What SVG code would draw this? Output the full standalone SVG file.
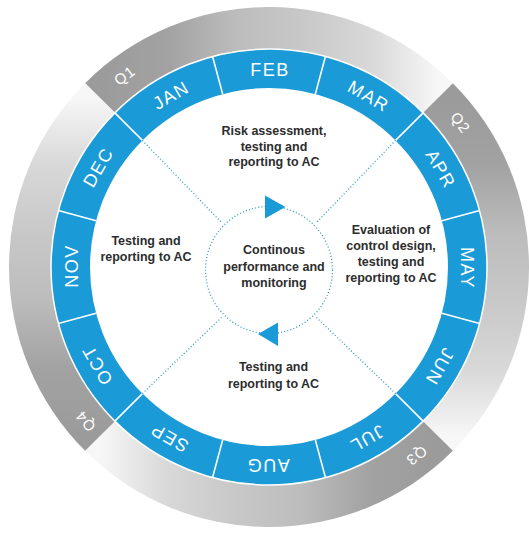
<svg xmlns="http://www.w3.org/2000/svg" xmlns:xlink="http://www.w3.org/1999/xlink" width="529" height="534" viewBox="0 0 529 534">
<style>
.month{font-family:"Liberation Sans",Arial,sans-serif;font-size:18px;fill:#ffffff;text-anchor:middle;letter-spacing:1.5px}
.qlab{font-family:"Liberation Sans",Arial,sans-serif;font-size:15px;fill:#ffffff;text-anchor:middle;letter-spacing:1px}
.body{font-family:"Liberation Sans",Arial,sans-serif;font-size:12.5px;font-weight:bold;fill:#2d2d2d;text-anchor:middle}
.dot{fill:none;stroke:#2b9cc4;stroke-width:1.3;stroke-dasharray:1 2.2}
.sep{stroke:#ffffff;stroke-width:1.6}
.tri{fill:#1a9ad7}
</style>
<defs>
<linearGradient id="qfade" gradientUnits="userSpaceOnUse" x1="100" y1="0" x2="438" y2="0">
<stop offset="0" stop-color="#9b9b9b"/>
<stop offset="0.2" stop-color="#a2a2a2"/>
<stop offset="0.4" stop-color="#bcbcbc"/>
<stop offset="0.6" stop-color="#c8c8c8"/>
<stop offset="0.8" stop-color="#d8d8d8"/>
<stop offset="0.95" stop-color="#efefef"/>
<stop offset="1" stop-color="#f7f7f7"/>
</linearGradient>
<path id="quarter" d="M85.15,83.15 A260,260 0 0 1 452.85,83.15 L423.15,112.85 A218,218 0 0 0 114.85,112.85 Z" fill="url(#qfade)"/>
<line id="sepline" x1="269" y1="88" x2="269" y2="49" class="sep"/>
</defs>
<rect width="529" height="534" fill="#ffffff"/>

<g id="quarters">
<g id="q1"><use xlink:href="#quarter"/><text class="qlab" x="269" y="32.5" transform="rotate(-37 269 267)">Q1</text></g>
<g id="q2"><use xlink:href="#quarter" transform="rotate(90 269 267)"/><text class="qlab" x="269" y="32.5" transform="rotate(53 269 267)">Q2</text></g>
<g id="q3"><use xlink:href="#quarter" transform="rotate(180 269 267)"/><text class="qlab" x="269" y="32.5" transform="rotate(142 269 267)">Q3</text></g>
<g id="q4"><use xlink:href="#quarter" transform="rotate(270 269 267)"/><text class="qlab" x="269" y="32.5" transform="rotate(230 269 267)">Q4</text></g>
</g>

<g id="month-ring">
<circle cx="269" cy="267" r="198.5" fill="none" stroke="#1a9ad7" stroke-width="39"/>
<circle cx="269" cy="267" r="218" fill="none" stroke="#ffffff" stroke-width="1.5"/>
<use xlink:href="#sepline" transform="rotate(15 269 267)"/>
<use xlink:href="#sepline" transform="rotate(45 269 267)"/>
<use xlink:href="#sepline" transform="rotate(75 269 267)"/>
<use xlink:href="#sepline" transform="rotate(105 269 267)"/>
<use xlink:href="#sepline" transform="rotate(135 269 267)"/>
<use xlink:href="#sepline" transform="rotate(165 269 267)"/>
<use xlink:href="#sepline" transform="rotate(195 269 267)"/>
<use xlink:href="#sepline" transform="rotate(225 269 267)"/>
<use xlink:href="#sepline" transform="rotate(255 269 267)"/>
<use xlink:href="#sepline" transform="rotate(285 269 267)"/>
<use xlink:href="#sepline" transform="rotate(315 269 267)"/>
<use xlink:href="#sepline" transform="rotate(345 269 267)"/>
</g>

<g id="months">
<g id="m-jan"><text class="month" x="270" y="75.5" transform="rotate(-30 269 267)">JAN</text></g>
<g id="m-feb"><text class="month" x="270" y="75.5" transform="rotate(0 269 267)">FEB</text></g>
<g id="m-mar"><text class="month" x="270" y="75.5" transform="rotate(30 269 267)">MAR</text></g>
<g id="m-apr"><text class="month" x="270" y="75.5" transform="rotate(60 269 267)">APR</text></g>
<g id="m-may"><text class="month" x="270" y="75.5" transform="rotate(90 269 267)">MAY</text></g>
<g id="m-jun"><text class="month" x="270" y="75.5" transform="rotate(120 269 267)">JUN</text></g>
<g id="m-jul"><text class="month" x="270" y="75.5" transform="rotate(150 269 267)">JUL</text></g>
<g id="m-aug"><text class="month" x="270" y="75.5" transform="rotate(180 269 267)">AUG</text></g>
<g id="m-sep"><text class="month" x="270" y="75.5" transform="rotate(210 269 267)">SEP</text></g>
<g id="m-oct"><text class="month" x="270" y="75.5" transform="rotate(240 269 267)">OCT</text></g>
<g id="m-nov"><text class="month" x="270" y="75.5" transform="rotate(270 269 267)">NOV</text></g>
<g id="m-dec"><text class="month" x="270" y="75.5" transform="rotate(300 269 267)">DEC</text></g>
</g>

<g id="connectors">
<line class="dot" x1="142.4" y1="140.4" x2="222.3" y2="223.3"/>
<line class="dot" x1="395.6" y1="140.4" x2="315.7" y2="223.3"/>
<line class="dot" x1="395.6" y1="393.6" x2="315.7" y2="316.7"/>
<line class="dot" x1="142.4" y1="393.6" x2="222.3" y2="316.7"/>
<circle class="dot" cx="269" cy="270" r="63.5"/>
<polygon class="tri" points="265,195.5 265,218.5 285.5,207"/>
<polygon class="tri" points="258,334 278,322.5 278,346"/>
</g>

<g id="phase-q1">
<text class="body" x="274" y="135"><tspan x="274">Risk assessment,</tspan><tspan x="274" dy="15.5">testing and</tspan><tspan x="274" dy="15.5">reporting to AC</tspan></text>
</g>
<g id="phase-q2">
<text class="body" x="391" y="233.5"><tspan x="391">Evaluation of</tspan><tspan x="391" dy="16.3">control design,</tspan><tspan x="391" dy="16.3">testing and</tspan><tspan x="391" dy="16.3">reporting to AC</tspan></text>
</g>
<g id="phase-q3">
<text class="body" x="273.5" y="371"><tspan x="273.5">Testing and</tspan><tspan x="273.5" dy="16.5">reporting to AC</tspan></text>
</g>
<g id="phase-q4">
<text class="body" x="146" y="245"><tspan x="146">Testing and</tspan><tspan x="146" dy="16">reporting to AC</tspan></text>
</g>
<g id="center">
<text class="body" x="274" y="254"><tspan x="274">Continous</tspan><tspan x="274" dy="16.5">performance and</tspan><tspan x="274" dy="16.5">monitoring</tspan></text>
</g>
</svg>
